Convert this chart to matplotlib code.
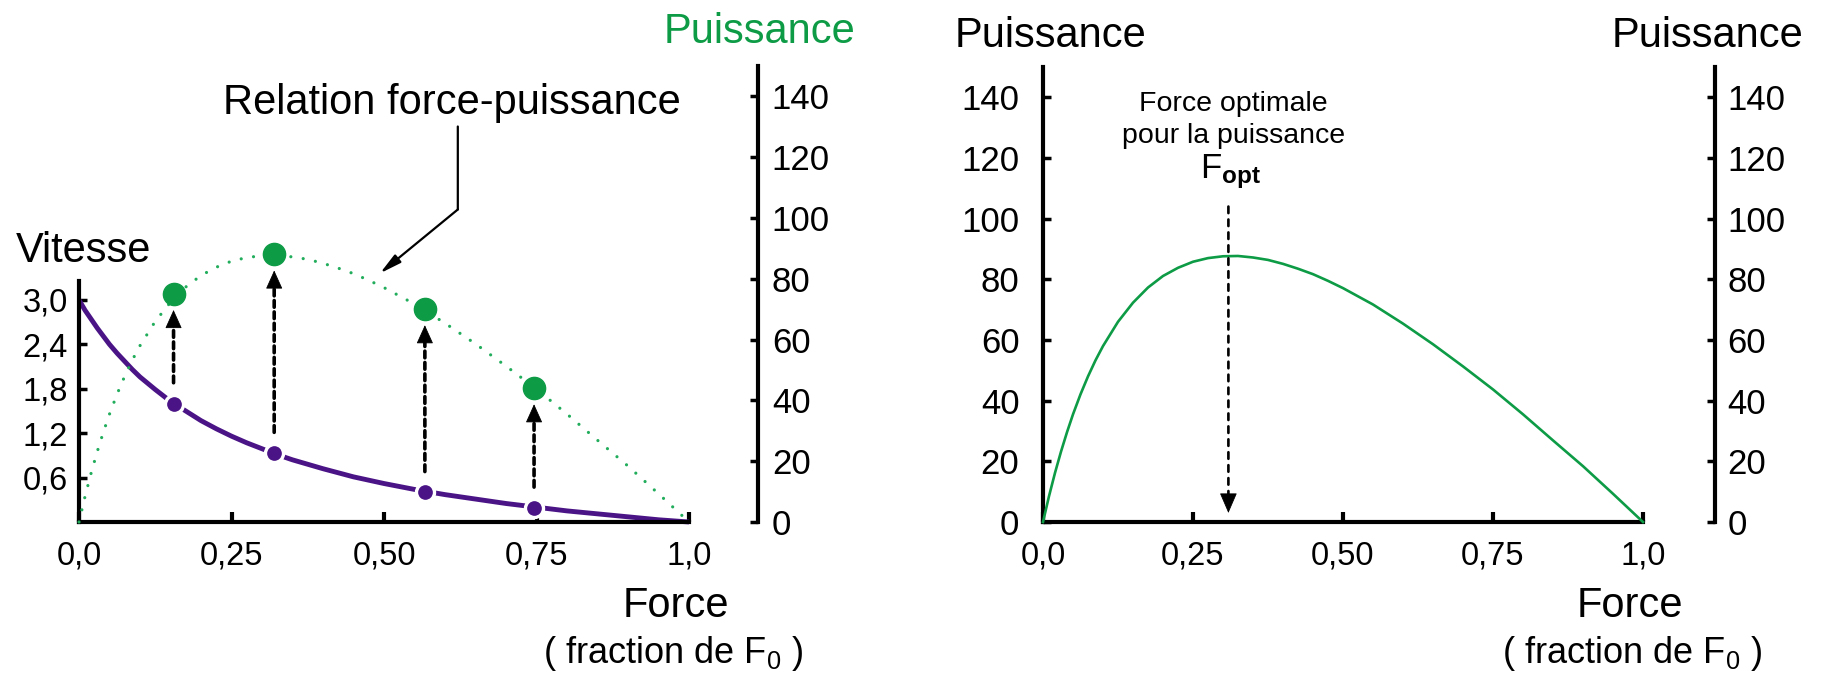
import matplotlib
matplotlib.use("Agg")
import matplotlib.pyplot as plt
from matplotlib.ticker import FixedLocator, FixedFormatter

plt.rcParams['font.family'] = ['Liberation Sans', 'DejaVu Sans']
plt.rcParams['mathtext.fontset'] = 'custom'
plt.rcParams['mathtext.rm'] = 'Liberation Sans'
plt.rcParams['mathtext.it'] = 'Liberation Sans:italic'
plt.rcParams['mathtext.bf'] = 'Liberation Sans:bold'

NARROW = ['Liberation Sans Narrow', 'Liberation Sans', 'DejaVu Sans']

# ---- data -------------------------------------------------------------
force = [0, 0.01, 0.02, 0.03, 0.04, 0.05, 0.0625, 0.075, 0.0875, 0.1,
         0.125, 0.15, 0.175, 0.2, 0.225, 0.25, 0.275, 0.3, 0.325, 0.35,
         0.375, 0.4, 0.425, 0.45, 0.475, 0.5, 0.55, 0.6, 0.65, 0.7, 0.75,
         0.8, 0.85, 0.9, 0.95, 1.0]
vitesse = [3.0, 2.86, 2.74, 2.62, 2.51, 2.40, 2.28, 2.17, 2.06, 1.96,
           1.79, 1.63, 1.50, 1.37, 1.26, 1.16, 1.07, 0.99, 0.91, 0.84,
           0.78, 0.72, 0.665, 0.61, 0.565, 0.52, 0.44, 0.37, 0.31, 0.25,
           0.20, 0.15, 0.11, 0.07, 0.03, 0.0]
puissance = [0, 8.5, 16.2, 23.2, 29.6, 35.5, 42.1, 48.0, 53.3, 58.0,
             66.0, 72.3, 77.3, 81.1, 83.8, 85.8, 87.0, 87.6, 87.7, 87.2,
             86.4, 85.1, 83.5, 81.7, 79.5, 77.1, 71.7, 65.4, 58.6, 51.3,
             43.7, 35.5, 26.9, 18.4, 9.3, 0]

mesure_force = [0.155, 0.32, 0.567, 0.746]
mesure_vitesse = [1.60, 0.93, 0.40, 0.19]
mesure_puissance = [75, 88, 70, 44]

f_opt = 0.309

x_ticks = [0, 0.25, 0.5, 0.75, 1.0]
x_labels = ['0,0', '0,25', '0,50', '0,75', '1,0']
v_ticks = [0.6, 1.2, 1.8, 2.4, 3.0]
v_labels = ['0,6', '1,2', '1,8', '2,4', '3,0']
p_ticks = [0, 20, 40, 60, 80, 100, 120, 140]
p_labels = [str(t) for t in p_ticks]

# ---- style ------------------------------------------------------------
PURPLE = '#4a1486'
GREEN = '#0d9b46'
GREEN_DOT = '#22ad5c'
BLACK = 'black'
TICK_FS = 23.5
POWER_FS = 25
BIG_FS = 30

W, H = 1824, 676
fig = plt.figure(figsize=(W / 100, H / 100), dpi=100)


def rect(x0, x1, ytop, ybot):
    return [x0 / W, 1 - ybot / H, (x1 - x0) / W, (ybot - ytop) / H]


def style_x(ax):
    ax.set_xlim(0, 1)
    ax.spines['bottom'].set_bounds(0, 1)
    ax.spines['bottom'].set_linewidth(3)
    ax.xaxis.set_major_locator(FixedLocator(x_ticks))
    ax.xaxis.set_major_formatter(FixedFormatter(x_labels))
    ax.tick_params(axis='x', direction='in', length=7, width=3,
                   labelsize=TICK_FS, pad=13)


def power_axis(ax, side, pos, pad, keep=()):
    ax.set_ylim(0, 150)
    for name, s in ax.spines.items():
        s.set_visible(name in keep)
    sp = ax.spines[side]
    sp.set_visible(True)
    sp.set_bounds(0, 150)
    sp.set_linewidth(3)
    if pos is not None:
        sp.set_position(('axes', pos))
    ax.yaxis.set_major_locator(FixedLocator(p_ticks))
    ax.yaxis.set_major_formatter(FixedFormatter(p_labels))
    ax.tick_params(axis='y', direction='in', length=6, width=2.5,
                   labelsize=POWER_FS, pad=pad)


# ======================= left panel: vitesse & puissance ==============
axL = fig.add_axes(rect(79, 689, 66, 522))
axL.patch.set_visible(False)
for s in ('top', 'right'):
    axL.spines[s].set_visible(False)
style_x(axL)
axL.set_ylim(0, 6.162)
axL.spines['left'].set_bounds(0, 3.25)
axL.spines['left'].set_linewidth(3)
axL.yaxis.set_major_locator(FixedLocator(v_ticks))
axL.yaxis.set_major_formatter(FixedFormatter(v_labels))
axL.tick_params(axis='y', direction='in', length=6, width=2.5,
                labelsize=TICK_FS, pad=8)

# force-velocity relation
axL.plot(force, vitesse, color=PURPLE, lw=3.5, solid_capstyle='butt',
         clip_on=False, zorder=2)
axL.plot(mesure_force, mesure_vitesse, 'o', ms=13, color=PURPLE,
         mec='white', mew=2.4, clip_on=False, zorder=3)
axL.text(0.0066, 3.51, 'Vitesse', fontsize=BIG_FS, ha='center',
         va='baseline')

axLP = axL.twinx()
axLP.set_xlim(0, 1)
power_axis(axLP, 'right', 1.113, 10)

# force-power relation (dotted) and measured power
axLP.plot(force, puissance, color=GREEN_DOT, lw=2.3,
          ls=(0, (0.01, 3.9)), dash_capstyle='round', clip_on=False,
          zorder=1)
axLP.plot(mesure_force, mesure_puissance, 'o', ms=16, color=GREEN,
          mec=GREEN, clip_on=False, zorder=4)

# dashed arrows from each velocity to its power
for f, v, p in zip(mesure_force, mesure_vitesse, mesure_puissance):
    axLP.annotate('', xy=(f, p), xytext=(f, v), textcoords=axL.transData,
                  arrowprops=dict(arrowstyle='-', lw=2.6, color=BLACK,
                                  linestyle=(0, (1.85, 1.3)),
                                  shrinkA=15, shrinkB=23.5))
    axLP.annotate('', xy=(f, p), xytext=(0, -24), textcoords='offset points',
                  arrowprops=dict(arrowstyle='-|>,head_length=1.2,head_width=0.54',
                                  mutation_scale=10, lw=0.6, color=BLACK,
                                  shrinkA=0, shrinkB=11.5))

axLP.text(1.116, 157.6, 'Puissance', color=GREEN, fontsize=BIG_FS,
          ha='center', va='baseline')

# annotation leader
axLP.text(0.611, 134.2, 'Relation force-puissance', fontsize=BIG_FS,
          ha='center', va='baseline')
axLP.annotate('', xy=(0.621, 102.8), xytext=(0.621, 130.1),
              arrowprops=dict(arrowstyle='-', lw=1.6, color=BLACK,
                              shrinkA=0, shrinkB=0))
axLP.annotate('', xy=(0.4934, 81.8), xytext=(0.621, 102.8),
              arrowprops=dict(arrowstyle='-|>,head_length=1.3,head_width=0.3',
                              mutation_scale=10, lw=1.6, color=BLACK,
                              shrinkA=0, shrinkB=0))

axL.text(0.979, -0.208, 'Force', fontsize=BIG_FS, ha='center',
         va='baseline', transform=axL.transAxes)
axL.text(0.974, -0.309, r'( fraction de $\mathregular{F_0}$ )', fontsize=26,
         ha='center', va='baseline', transform=axL.transAxes)

# ======================= right panel: puissance ========================
axR = fig.add_axes(rect(1043, 1643, 67, 522))
axR.patch.set_visible(False)
power_axis(axR, 'left', None, 17, keep=('bottom',))
style_x(axR)

axR.plot(force, puissance, color=GREEN, lw=1.9, clip_on=False, zorder=3)

axR.annotate('', xy=(f_opt, 0), xytext=(f_opt, 104),
             arrowprops=dict(arrowstyle='-', lw=1.9, color=BLACK,
                             linestyle=(0, (2.5, 2.4)),
                             shrinkA=0, shrinkB=19.5))
axR.annotate('', xy=(f_opt, 0), xytext=(0, 20), textcoords='offset points',
             arrowprops=dict(arrowstyle='-|>,head_length=1.3,head_width=0.56',
                             mutation_scale=10, lw=0.6, color=BLACK,
                             shrinkA=0, shrinkB=6.5))
axR.text(0.318, 135.4, 'Force optimale', fontsize=20.5, family=NARROW,
         ha='center', va='baseline')
axR.text(0.318, 125.0, 'pour la puissance', fontsize=20.5, family=NARROW,
         ha='center', va='baseline')
axR.text(0.313, 113.4, r'$\mathregular{F}_{\mathbf{opt}}$', fontsize=25,
         ha='center', va='baseline')

axR.text(0.012, 156.7, 'Puissance', fontsize=BIG_FS, ha='center',
         va='baseline')

axR2 = axR.twinx()
power_axis(axR2, 'right', 1.12, 9)
axR2.text(1.107, 156.7, 'Puissance', fontsize=BIG_FS, ha='center',
          va='baseline', transform=axR2.get_yaxis_transform())

axR.text(0.978, -0.209, 'Force', fontsize=BIG_FS, ha='center',
         va='baseline', transform=axR.transAxes)
axR.text(0.982, -0.310, r'( fraction de $\mathregular{F_0}$ )', fontsize=26,
         ha='center', va='baseline', transform=axR.transAxes)

fig.savefig('out.png', dpi=100)
